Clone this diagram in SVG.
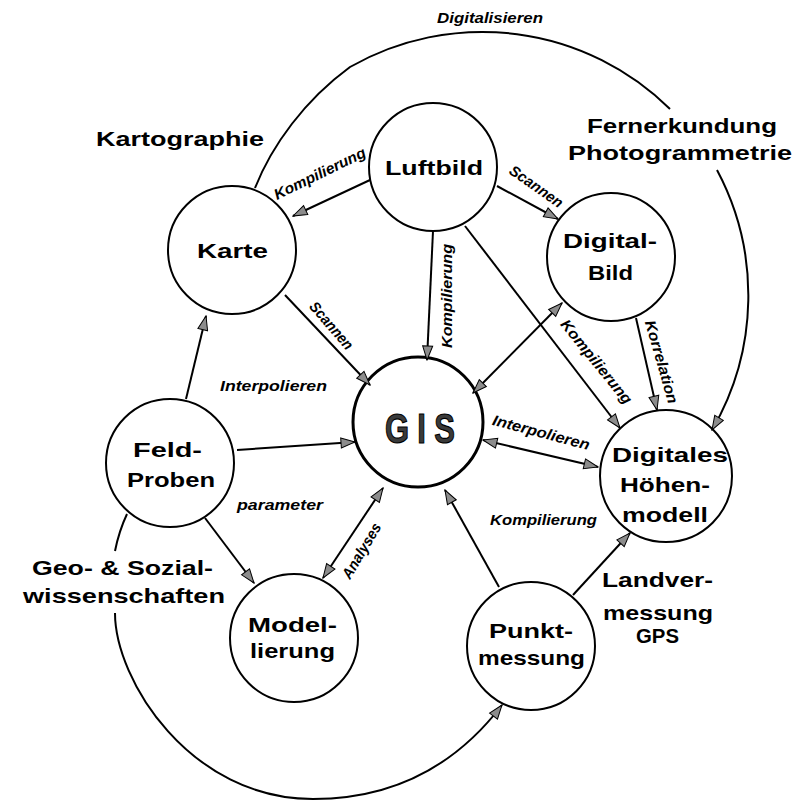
<svg xmlns="http://www.w3.org/2000/svg" width="805" height="801" viewBox="0 0 805 801">
  <defs>
    <marker id="arrow" viewBox="0 0 16 12" refX="15" refY="6" markerWidth="16" markerHeight="12" markerUnits="userSpaceOnUse" orient="auto-start-reverse">
      <path d="M1,1 L15,6 L1,11 Z" fill="#8c8c8c" stroke="#000" stroke-width="1"/>
    </marker>
    <style>
      .node circle { fill: #fff; stroke: #000; stroke-width: 2; }
      .node text, .area { font-family: "Liberation Sans", Arial, sans-serif; font-weight: bold; font-size: 21px; fill: #000; }
      .node text.gis { font-size: 43px; fill: #3a3a3a; stroke: #000; stroke-width: 1.2; }
      .edge { fill: none; stroke: #000; stroke-width: 2; }
      .one { marker-end: url(#arrow); }
      .two { marker-start: url(#arrow); marker-end: url(#arrow); }
      .lbl { font-family: "Liberation Sans", Arial, sans-serif; font-weight: bold; font-style: italic; font-size: 15px; fill: #000; }
    </style>
  </defs>

  <rect width="805" height="801" fill="#fff"/>

  <!-- field labels -->
  <g id="areas">
    <text class="area" x="96" y="146" textLength="168" lengthAdjust="spacingAndGlyphs">Kartographie</text>
    <text class="area" x="587" y="133" textLength="190" lengthAdjust="spacingAndGlyphs">Fernerkundung</text>
    <text class="area" x="568" y="160" textLength="224" lengthAdjust="spacingAndGlyphs">Photogrammetrie</text>
    <text class="area" x="32" y="575" textLength="181" lengthAdjust="spacingAndGlyphs">Geo- &amp; Sozial-</text>
    <text class="area" x="23" y="603" textLength="202" lengthAdjust="spacingAndGlyphs">wissenschaften</text>
    <text class="area" x="602" y="587" textLength="111" lengthAdjust="spacingAndGlyphs">Landver-</text>
    <text class="area" x="603" y="620" textLength="110" lengthAdjust="spacingAndGlyphs">messung</text>
    <text class="area" x="636" y="643" textLength="43" lengthAdjust="spacingAndGlyphs">GPS</text>
  </g>

  <!-- nodes -->
  <g id="luftbild" class="node">
    <circle cx="433" cy="167" r="64"/>
    <text x="385" y="175" textLength="98" lengthAdjust="spacingAndGlyphs">Luftbild</text>
  </g>
  <g id="karte" class="node">
    <circle cx="232" cy="250" r="64"/>
    <text x="197" y="258" textLength="71" lengthAdjust="spacingAndGlyphs">Karte</text>
  </g>
  <g id="digitalbild" class="node">
    <circle cx="611" cy="257" r="64"/>
    <text x="563" y="248" textLength="94" lengthAdjust="spacingAndGlyphs">Digital-</text>
    <text x="588" y="280" textLength="45" lengthAdjust="spacingAndGlyphs">Bild</text>
  </g>
  <g id="gis" class="node">
    <circle cx="418" cy="422" r="65" style="stroke-width:3"/>
    <!-- condensed, widely spaced title -->
    <text class="gis" x="0" y="0" textLength="97" lengthAdjust="spacing" transform="translate(385,443) scale(0.72,1)">GIS</text>
  </g>
  <g id="feldproben" class="node">
    <circle cx="170" cy="463" r="64"/>
    <text x="133" y="457" textLength="69" lengthAdjust="spacingAndGlyphs">Feld-</text>
    <text x="127" y="487" textLength="88" lengthAdjust="spacingAndGlyphs">Proben</text>
  </g>
  <g id="hoehenmodell" class="node">
    <circle cx="666" cy="476" r="66"/>
    <text x="612" y="462" textLength="116" lengthAdjust="spacingAndGlyphs">Digitales</text>
    <text x="620" y="492" textLength="90" lengthAdjust="spacingAndGlyphs">Höhen-</text>
    <text x="622" y="522" textLength="86" lengthAdjust="spacingAndGlyphs">modell</text>
  </g>
  <g id="modellierung" class="node">
    <circle cx="294" cy="638" r="64"/>
    <text x="248" y="632" textLength="89" lengthAdjust="spacingAndGlyphs">Model-</text>
    <text x="250" y="658" textLength="85" lengthAdjust="spacingAndGlyphs">lierung</text>
  </g>
  <g id="punktmessung" class="node">
    <circle cx="531" cy="646" r="64"/>
    <text x="489" y="638" textLength="84" lengthAdjust="spacingAndGlyphs">Punkt-</text>
    <text x="478" y="665" textLength="107" lengthAdjust="spacingAndGlyphs">messung</text>
  </g>

  <!-- connectors -->
  <g id="connectors">
    <!-- Digitalisieren: Karte over the top to the elevation model -->
    <path class="edge" d="M255,188 C272,145 305,100 350,67 A267,267 0 0 1 670,109"/>
    <path class="edge one" d="M717,170 A267,267 0 0 1 712,430"/>
    <!-- Geo- & Sozialwissenschaften: Feld-Proben round the bottom to Punktmessung -->
    <path class="edge" d="M127,514 Q119,531 115,551"/>
    <path class="edge one" d="M115,613 C115,680 190,799 313,799 C400,799 460,760 502,705"/>

    <path class="edge one" d="M370,180 L293,216"/>
    <path class="edge one" d="M497,186 L558,219"/>
    <path class="edge one" d="M433,231 L427,360"/>
    <path class="edge one" d="M465,226 L620,428"/>
    <path class="edge one" d="M285,295 L370,385"/>
    <path class="edge two" d="M562,303 L473,393"/>
    <path class="edge one" d="M636,318 L657,410"/>
    <path class="edge two" d="M483,440 L598,467"/>
    <path class="edge one" d="M237,450 L355,442"/>
    <path class="edge one" d="M186,399 L206,316"/>
    <path class="edge one" d="M205,518 L254,583"/>
    <path class="edge two" d="M323,578 L383,488"/>
    <path class="edge one" d="M499,587 L445,490"/>
    <path class="edge one" d="M573,595 L630,533"/>

    <!-- connector labels -->
    <text class="lbl" x="437" y="23" textLength="106" lengthAdjust="spacingAndGlyphs">Digitalisieren</text>
    <text class="lbl" x="220" y="391" textLength="107" lengthAdjust="spacingAndGlyphs">Interpolieren</text>
    <text class="lbl" x="237" y="510" textLength="86" lengthAdjust="spacingAndGlyphs">parameter</text>
    <text class="lbl" x="490" y="525" textLength="107" lengthAdjust="spacingAndGlyphs">Kompilierung</text>
    <text class="lbl" text-anchor="middle" y="4.5" textLength="100" lengthAdjust="spacingAndGlyphs" transform="translate(320,174) rotate(-26)">Kompilierung</text>
    <text class="lbl" text-anchor="middle" y="4.5" textLength="62" lengthAdjust="spacingAndGlyphs" transform="translate(536,187) rotate(35)">Scannen</text>
    <text class="lbl" text-anchor="middle" y="4.5" textLength="104" lengthAdjust="spacingAndGlyphs" transform="translate(447,296) rotate(-90)">Kompilierung</text>
    <text class="lbl" text-anchor="middle" y="4.5" textLength="58" lengthAdjust="spacingAndGlyphs" transform="translate(331,326) rotate(49)">Scannen</text>
    <text class="lbl" text-anchor="middle" y="4.5" textLength="104" lengthAdjust="spacingAndGlyphs" transform="translate(596,362) rotate(51)">Kompilierung</text>
    <text class="lbl" text-anchor="middle" y="4.5" textLength="86" lengthAdjust="spacingAndGlyphs" transform="translate(661,362) rotate(74)">Korrelation</text>
    <text class="lbl" text-anchor="middle" y="4.5" textLength="100" lengthAdjust="spacingAndGlyphs" transform="translate(541,433) rotate(14.7)">Interpolieren</text>
    <text class="lbl" text-anchor="middle" y="4.5" textLength="62" lengthAdjust="spacingAndGlyphs" transform="translate(362,551) rotate(-59)">Analyses</text>
  </g>
</svg>
